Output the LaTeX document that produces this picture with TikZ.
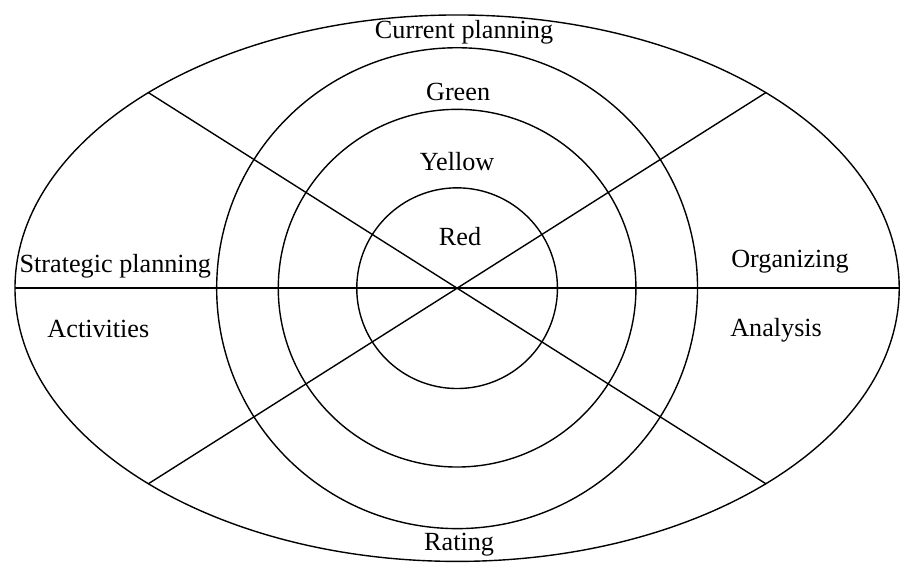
\documentclass[tikz,border=0pt]{standalone}
\usepackage{fontspec}
\setmainfont{Liberation Serif}
\usepackage{tikz}

\begin{document}
\begin{tikzpicture}[x=0.02cm, y=-0.02cm, line width=0.8pt,
    lbl/.style={font=\fontsize{15}{18}\selectfont, inner sep=0pt}]
    %% Background
    \draw[draw=none] (0,0) rectangle (900,569);

    %% Outer ellipse and rings
    \coordinate (O) at (460,290);
    \draw (O) ellipse [x radius=8.9cm, y radius=5.5cm];
    \draw (O) circle (4.84cm);
    \draw (O) circle (3.6cm);
    \draw (O) circle (2.02cm);

    %% Dividing lines
    \coordinate (W) at (15,290);
    \coordinate (E) at (905,290);
    \coordinate (NW) at (149,93);
    \coordinate (SE) at (771,487);
    \coordinate (NE) at (771,93);
    \coordinate (SW) at (149,487);
    \draw (W) -- (E);
    \draw (NW) -- (SE);
    \draw (NE) -- (SW);

    %% Labels
    \node[lbl] (current) at (467,32) {Current planning};
    \node[lbl] (green) at (461,93) {Green};
    \node[lbl] (yellow) at (460,163) {Yellow};
    \node[lbl] (red) at (463,238) {Red};
    \node[lbl] (strategic) at (116,268) {Strategic planning};
    \node[lbl] (organizing) at (795,263) {Organizing};
    \node[lbl] (activities) at (99,331) {Activities};
    \node[lbl] (analysis) at (781,332) {Analysis};
    \node[lbl] (rating) at (462,548) {Rating};
\end{tikzpicture}
\end{document}
